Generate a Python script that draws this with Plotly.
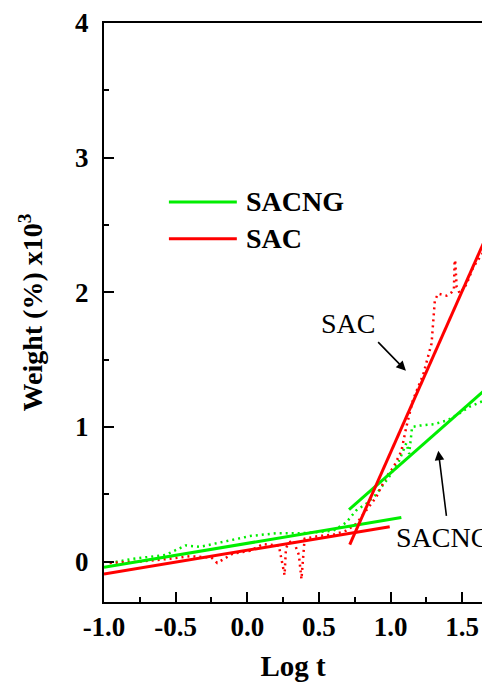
import plotly.graph_objects as go

# Raw measured data (dotted)
sac_x = [-0.96, -0.75, -0.55, -0.40, -0.25, -0.21, -0.10, 0.02, 0.11, 0.22, 0.26, 0.27, 0.29, 0.32,
         0.36, 0.378, 0.40, 0.50, 0.60, 0.69, 0.76, 0.83, 0.90, 0.97, 1.02, 1.075, 1.11, 1.156,
         1.228, 1.286, 1.297, 1.309, 1.332, 1.391, 1.426, 1.442, 1.447, 1.452, 1.461, 1.484,
         1.530, 1.576, 1.623, 1.65]
sac_y = [-0.01, 0.00, 0.02, 0.04, 0.03, -0.01, 0.06, 0.08, 0.13, 0.12, -0.10, 0.10, 0.14, 0.16,
         0.05, -0.13, 0.17, 0.19, 0.20, 0.23, 0.28, 0.38, 0.48, 0.63, 0.70, 0.82, 1.00, 1.20,
         1.39, 1.62, 1.81, 1.94, 1.99, 1.975, 2.00, 2.02, 2.24, 2.22, 2.04, 1.99,
         2.06, 2.185, 2.26, 2.30]

sacng_x = [-0.96, -0.80, -0.57, -0.43, -0.33, -0.15, 0.02, 0.20, 0.37, 0.50, 0.60, 0.69, 0.76,
           0.83, 0.90, 0.99, 1.06, 1.11, 1.13, 1.15, 1.20, 1.30, 1.40, 1.48, 1.55, 1.64]
sacng_y = [-0.01, 0.02, 0.05, 0.12, 0.11, 0.15, 0.19, 0.21, 0.21, 0.22, 0.23, 0.29, 0.38,
           0.43, 0.50, 0.63, 0.75, 0.88, 0.80, 1.00, 1.01, 1.02, 1.05, 1.10, 1.15, 1.19]

# Linear fits (solid)
sacng_fit1_x = [-1.0, 1.075]
sacng_fit1_y = [-0.043, 0.328]
sac_fit1_x = [-1.0, 0.994]
sac_fit1_y = [-0.092, 0.259]
sacng_fit2_x = [0.71, 1.70]
sacng_fit2_y = [0.386, 1.314]
sac_fit2_x = [0.715, 1.70]
sac_fit2_y = [0.126, 2.49]

x_ticks = [-1.0, -0.5, 0.0, 0.5, 1.0, 1.5]
x_tick_text = ["-1.0", "-0.5", "0.0", "0.5", "1.0", "1.5"]
y_ticks = [0, 1, 2, 3, 4]
y_tick_text = ["0", "1", "2", "3", "4"]

GREEN = "#00ee00"
RED = "#ff0000"
SERIF = "Liberation Serif"

fig = go.Figure()
fig.add_trace(go.Scatter(x=sacng_x, y=sacng_y, mode="lines",
                         line=dict(color=GREEN, width=2.5, dash="2px,4px"), showlegend=False))
fig.add_trace(go.Scatter(x=sac_x, y=sac_y, mode="lines",
                         line=dict(color=RED, width=2.5, dash="2px,4px"), showlegend=False))
for fx, fy, c in [(sacng_fit1_x, sacng_fit1_y, GREEN), (sac_fit1_x, sac_fit1_y, RED),
                  (sacng_fit2_x, sacng_fit2_y, GREEN), (sac_fit2_x, sac_fit2_y, RED)]:
    fig.add_trace(go.Scatter(x=fx, y=fy, mode="lines", line=dict(color=c, width=3),
                             showlegend=False))

# Manual legend
fig.add_shape(type="line", xref="x", yref="y", x0=-0.547, x1=-0.073, y0=2.671, y1=2.671,
              line=dict(color=GREEN, width=3))
fig.add_shape(type="line", xref="x", yref="y", x0=-0.547, x1=-0.073, y0=2.398, y1=2.398,
              line=dict(color=RED, width=3))
fig.add_annotation(x=-0.02, y=2.671, xref="x", yref="y", text="<b>SACNG</b>", showarrow=False,
                   xanchor="left", yanchor="middle", font=dict(family=SERIF, size=28, color="black"))
fig.add_annotation(x=-0.02, y=2.398, xref="x", yref="y", text="<b>SAC</b>", showarrow=False,
                   xanchor="left", yanchor="middle", font=dict(family=SERIF, size=28, color="black"))

# Labels with arrows
fig.add_annotation(x=0.703, y=1.767, xref="x", yref="y", text="SAC", showarrow=False,
                   font=dict(family=SERIF, size=28, color="black"))
fig.add_annotation(x=1.107, y=1.418, ax=0.903, ay=1.641, xref="x", yref="y", axref="x", ayref="y",
                   text="", showarrow=True, arrowhead=2, arrowsize=1.2, arrowwidth=1.6,
                   arrowcolor="black")
fig.add_annotation(x=1.023, y=0.178, xref="x", yref="y", text="SACNG", showarrow=False,
                   xanchor="left", font=dict(family=SERIF, size=28, color="black"))
fig.add_annotation(x=1.333, y=0.824, ax=1.391, ay=0.328, xref="x", yref="y", axref="x", ayref="y",
                   text="", showarrow=True, arrowhead=2, arrowsize=1.2, arrowwidth=1.6,
                   arrowcolor="black")

fig.update_layout(
    width=482, height=682,
    margin=dict(l=104, r=0, t=23, b=80),
    plot_bgcolor="white", paper_bgcolor="white",
    showlegend=False,
    font=dict(family=SERIF, color="black"),
)
fig.update_xaxes(
    range=[-1.0, 1.638], showgrid=False, zeroline=False,
    showline=True, linecolor="black", linewidth=2, mirror=True,
    ticks="inside", ticklen=10, tickwidth=2, tickcolor="black",
    tickvals=x_ticks, ticktext=["<b>%s</b>" % t for t in x_tick_text],
    tickfont=dict(family=SERIF, size=27, color="black"),
    minor=dict(dtick=0.25, tick0=-1.0, ticks="inside", ticklen=5, tickwidth=2, tickcolor="black"),
    title=dict(text="<b>Log t</b>", font=dict(family=SERIF, size=29, color="black"), standoff=14),
)
fig.update_yaxes(
    range=[-0.3, 4.0], showgrid=False, zeroline=False,
    showline=True, linecolor="black", linewidth=2, mirror=False,
    ticks="inside", ticklen=10, tickwidth=2, tickcolor="black",
    tickvals=y_ticks, ticktext=["<b>%s</b>" % t for t in y_tick_text],
    tickfont=dict(family=SERIF, size=27, color="black"),
    ticklabelstandoff=8,
    minor=dict(dtick=0.5, tick0=0, ticks="inside", ticklen=5, tickwidth=2, tickcolor="black"),
    title=dict(text="<b>Weight (%) x10<sup>3</sup></b>", font=dict(family=SERIF, size=28, color="black"),
               standoff=24),
)

# remove the default page margin so the figure sits at the window origin
fig.write_html("out.html", config={"displayModeBar": False},
               post_script="document.body.style.margin='0px';document.body.style.overflow='hidden';")
